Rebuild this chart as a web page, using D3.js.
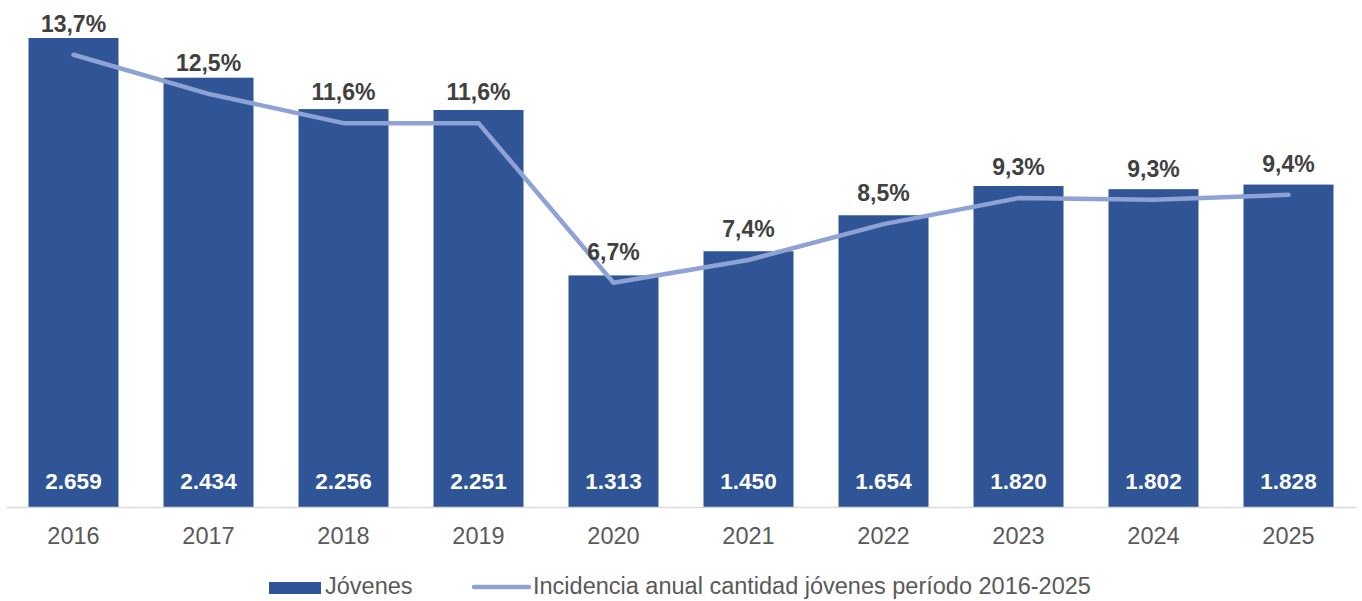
<!DOCTYPE html>
<html>
<head>
<meta charset="utf-8">
<script src="https://cdn.jsdelivr.net/npm/d3@7"></script>
<style>
  body { margin: 0; background: #fff; }
  svg { display: block; font-family: Arial, "Liberation Sans", sans-serif; }
</style>
</head>
<body>
<svg id="chart" width="1362" height="601"></svg>
<script>
// Years on the x axis
const years = ["2016", "2017", "2018", "2019", "2020", "2021", "2022", "2023", "2024", "2025"];
// Number of young people (bars)
const jovenes = [2659, 2434, 2256, 2251, 1313, 1450, 1654, 1820, 1802, 1828];
// Annual incidence, percent (line)
const incidencia = [13.7, 12.5, 11.6, 11.6, 6.7, 7.4, 8.5, 9.3, 9.25, 9.4];

const barColor = "#2F5597";
const lineColor = "#8FA2D5";

const svg = d3.select("#chart");
const baseY = 507;

// x scale: 10 bands, 135px step, 90px bars
const x = d3.scaleBand()
  .domain(years)
  .range([6, 1356])
  .paddingInner(1 / 3)
  .paddingOuter(1 / 6);

// primary axis for bars
const yBar = d3.scaleLinear().domain([0, 2659]).range([baseY, 38]);
// secondary axis for the line
const yLine = d3.scaleLinear().domain([0, 14]).range([501, 45]);

// Bars
svg.append("g").selectAll("rect")
  .data(jovenes)
  .join("rect")
  .attr("x", (d, i) => x(years[i]))
  .attr("y", d => yBar(d))
  .attr("width", x.bandwidth())
  .attr("height", d => baseY - yBar(d))
  .attr("fill", barColor);

// Axis line + year labels
const xAxis = svg.append("g")
  .attr("transform", `translate(0,${baseY})`)
  .call(d3.axisBottom(x).tickSize(0));
xAxis.select(".domain").attr("stroke", "#D9D9D9").attr("stroke-width", 1.5);
xAxis.selectAll("text")
  .attr("y", 37)
  .attr("dy", 0)
  .attr("fill", "#595959")
  .style("font-size", "23.5px")
  .style("font-family", "Arial, 'Liberation Sans', sans-serif");

// Values inside bars
svg.append("g").selectAll("text")
  .data(jovenes)
  .join("text")
  .attr("x", (d, i) => x(years[i]) + x.bandwidth() / 2)
  .attr("y", 489)
  .attr("text-anchor", "middle")
  .attr("fill", "#fff")
  .attr("font-weight", "bold")
  .attr("font-size", "22.5px")
  .text(d => d3.format(",")(d).replace(/,/g, "."));

// Incidence line
const line = d3.line()
  .x((d, i) => x(years[i]) + x.bandwidth() / 2)
  .y(d => yLine(d));

svg.append("path")
  .datum(incidencia)
  .attr("d", line)
  .attr("fill", "none")
  .attr("stroke", lineColor)
  .attr("stroke-width", 4.5)
  .attr("stroke-linejoin", "round")
  .attr("stroke-linecap", "round");

// Percent labels above line points
svg.append("g").selectAll("text")
  .data(incidencia)
  .join("text")
  .attr("x", (d, i) => x(years[i]) + x.bandwidth() / 2)
  .attr("y", d => yLine(d) - 23)
  .attr("text-anchor", "middle")
  .attr("fill", "#404040")
  .attr("font-weight", "bold")
  .attr("font-size", "23px")
  .text(d => d.toFixed(1).replace(".", ",") + "%");

// Legend
const legend = svg.append("g");
legend.append("rect")
  .attr("x", 269).attr("y", 582)
  .attr("width", 52).attr("height", 12)
  .attr("fill", barColor);
legend.append("text")
  .attr("x", 325).attr("y", 594)
  .attr("fill", "#595959")
  .attr("font-size", "23.5px")
  .text("Jóvenes");
legend.append("line")
  .attr("x1", 474).attr("x2", 529)
  .attr("y1", 587).attr("y2", 587)
  .attr("stroke", lineColor)
  .attr("stroke-width", 4.5)
  .attr("stroke-linecap", "round");
legend.append("text")
  .attr("x", 533).attr("y", 594)
  .attr("fill", "#595959")
  .attr("font-size", "23.5px")
  .text("Incidencia anual cantidad jóvenes período 2016-2025");
</script>
</body>
</html>
